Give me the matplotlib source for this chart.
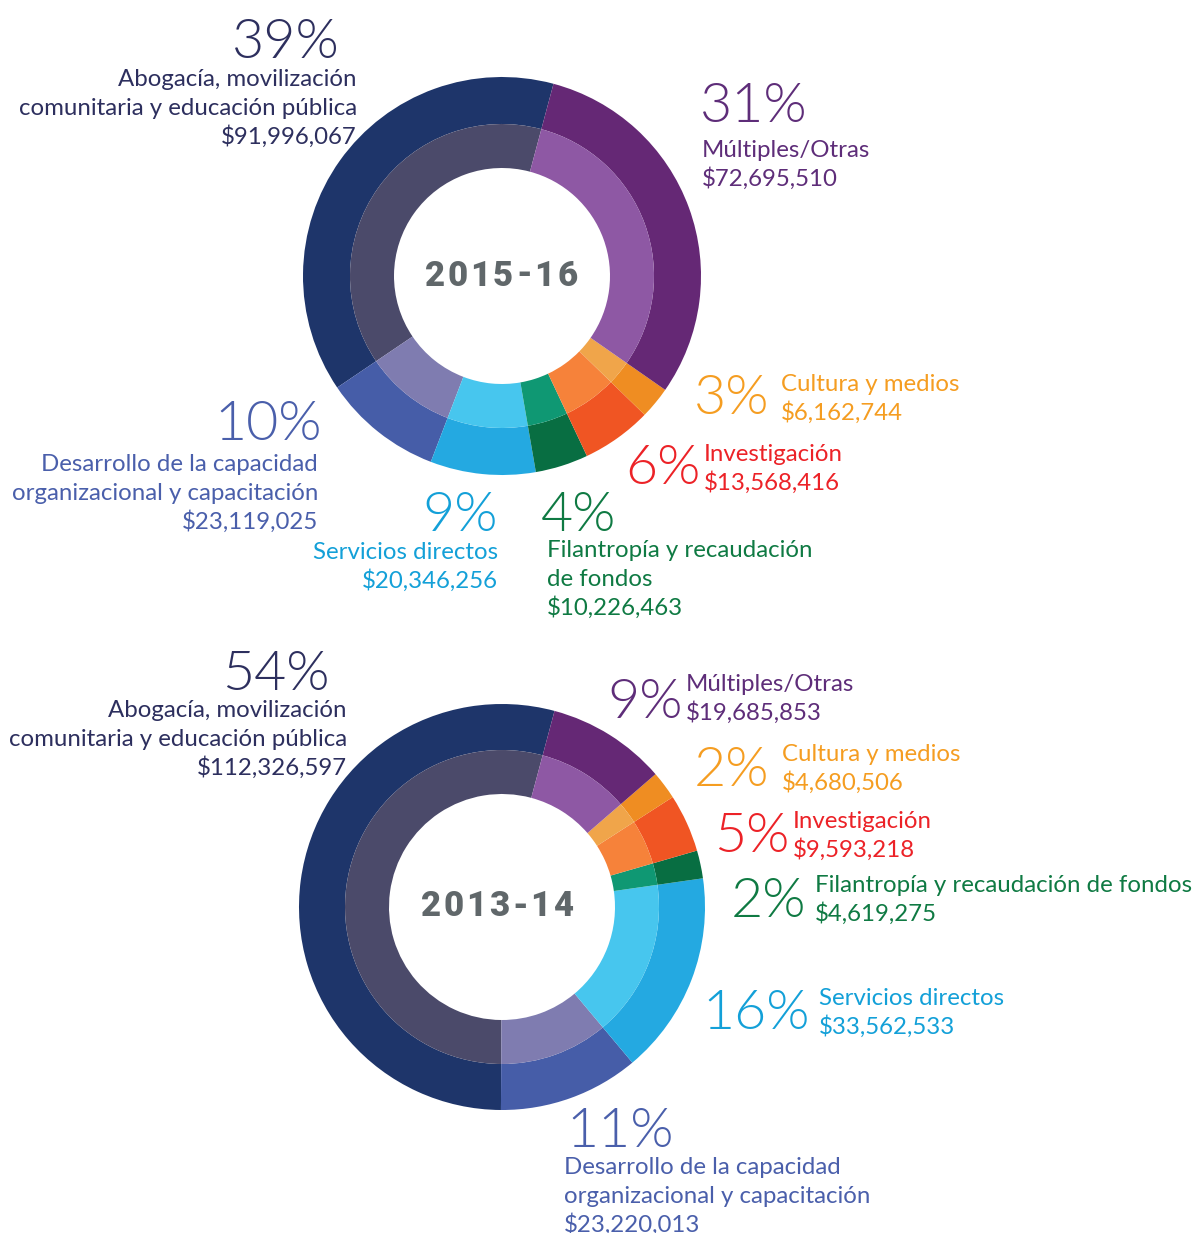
import matplotlib
matplotlib.use("Agg")
import matplotlib.pyplot as plt

# categories in drawing order (counterclockwise from the top)
cats = ["Abogacía", "Desarrollo", "Servicios", "Filantropía",
        "Investigación", "Cultura", "Múltiples"]

vals_1516 = [91996067, 23119025, 20346256, 10226463, 13568416, 6162744, 72695510]
vals_1314 = [112326597, 23220013, 33562533, 4619275, 9593218, 4680506, 19685853]

names_1516 = ["Abogacía, movilización\ncomunitaria y educación pública",
              "Desarrollo de la capacidad\norganizacional y capacitación",
              "Servicios directos",
              "Filantropía y recaudación\nde fondos",
              "Investigación",
              "Cultura y medios",
              "Múltiples/Otras"]
names_1314 = ["Abogacía, movilización\ncomunitaria y educación pública",
              "Desarrollo de la capacidad\norganizacional y capacitación",
              "Servicios directos",
              "Filantropía y recaudación de fondos",
              "Investigación",
              "Cultura y medios",
              "Múltiples/Otras"]

outer_cols = ["#1e356a", "#465da8", "#24a9e1", "#086e42", "#f05523", "#ef8d22", "#652875"]
inner_cols = ["#4b4a6a", "#7f7cb0", "#47c6ee", "#0f9873", "#f6823a", "#f0a54a", "#8e58a4"]
text_cols = ["#2d2f5e", "#4a5fab", "#13a0d8", "#0f7a43", "#ec2227", "#f59d21", "#5e2d79"]

# label layout in pixels: pct x, pct baseline, pct ha, label x, first baseline, label ha
lay_1516 = [(340, 58, "right", 357, 86, "right"),
            (322, 440, "right", 318, 471, "right"),
            (498, 531, "right", 498, 559, "right"),
            (541, 531, "left", 547, 557, "left"),
            (625, 484, "left", 704, 461, "left"),
            (694, 414, "left", 781, 391, "left"),
            (700, 122, "left", 702, 157, "left")]
lay_1314 = [(330, 690, "right", 347, 717, "right"),
            (566, 1147, "left", 564, 1174, "left"),
            (702, 1029, "left", 819, 1005, "left"),
            (731, 917, "left", 815, 892, "left"),
            (714, 852, "left", 793, 828, "left"),
            (694, 786, "left", 782, 761, "left"),
            (607, 718, "left", 686, 691, "left")]

W, H = 1194, 1233
fig = plt.figure(figsize=(W / 100, H / 100), dpi=100)
ax = fig.add_axes([0, 0, 1, 1])
ax.set_xlim(0, W)
ax.set_ylim(H, 0)
ax.set_aspect("equal")
ax.axis("off")

LINE = 28.7


def donut(vals, names, lay, center, r_out, r_mid, r_hole, year, year_x):
    # y axis is flipped, so go clockwise in data coords to look counterclockwise
    ax.pie(vals, colors=outer_cols, radius=r_out, center=center, startangle=-75,
           counterclock=False, wedgeprops=dict(width=r_out - r_mid, linewidth=0),
           frame=True)
    ax.pie(vals, colors=inner_cols, radius=r_mid, center=center, startangle=-75,
           counterclock=False, wedgeprops=dict(width=r_mid - r_hole, linewidth=0),
           frame=True)
    total = sum(vals)
    for v, name, (px, py, pha, lx, ly, lha), col in zip(vals, names, lay, text_cols):
        pct = round(100 * v / total)
        ax.text(px, py, f"{pct}%", ha=pha, va="baseline", color=col,
                fontsize=40, family="Lato", weight=300)
        lines = name.split("\n") + [f"${v:,}"]
        for i, s in enumerate(lines):
            ax.text(lx, ly + i * LINE, s, ha=lha, va="baseline", color=col,
                    fontsize=17.3, family="Lato")
    # letter-spaced year in the hole, stretched to the reference width
    r = fig.canvas.get_renderer()
    widths = []
    for ch in year:
        t = ax.text(0, 0, ch, fontsize=25, family="Roboto", weight="black")
        widths.append(t.get_window_extent(r).width)
        t.remove()
    span = 153
    gap = (span - sum(widths)) / (len(year) - 1)
    x = year_x - span / 2
    for ch, w in zip(year, widths):
        ax.text(x, center[1], ch, ha="left", va="center", color="#60676a",
                fontsize=25, family="Roboto", weight="black")
        x += w + gap


donut(vals_1516, names_1516, lay_1516, (502, 276), 199, 152, 108, "2015-16", 501)
donut(vals_1314, names_1314, lay_1314, (502, 907), 203, 157, 113, "2013-14", 497)

ax.set_xlim(0, W)
ax.set_ylim(H, 0)
ax.axis("off")

fig.savefig("out.png", dpi=100, facecolor="white")
